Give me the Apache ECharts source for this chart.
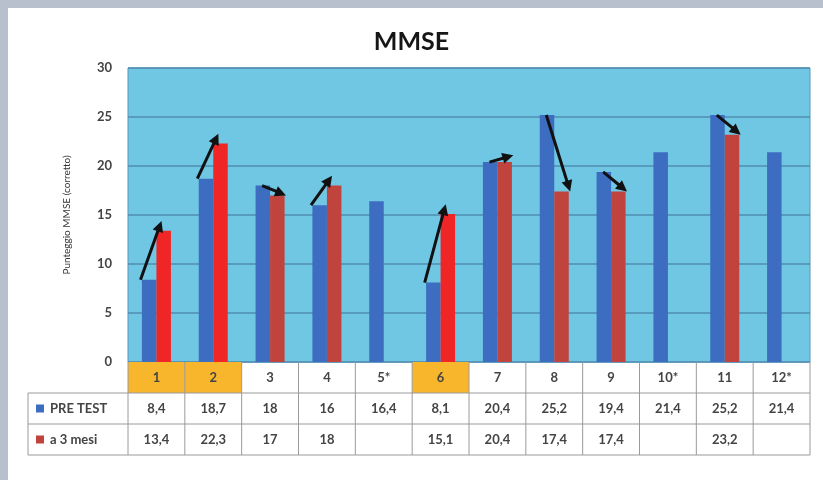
<!DOCTYPE html>
<html>
<head>
<meta charset="utf-8">
<title>MMSE</title>
<script src="https://cdn.jsdelivr.net/npm/echarts@6/dist/echarts.min.js"></script>
<style>
  html, body { margin: 0; padding: 0; background: #b9c0cd; }
  #chart { width: 823px; height: 480px; }
</style>
</head>
<body>
<div id="chart"></div>
<script>
// Pazienti (le etichette con * non hanno il controllo a 3 mesi)
const categorie = ['1', '2', '3', '4', '5*', '6', '7', '8', '9', '10*', '11', '12*'];
// Punteggio MMSE corretto prima del test
const preTest = [8.4, 18.7, 18, 16, 16.4, 8.1, 20.4, 25.2, 19.4, 21.4, 25.2, 21.4];
// Punteggio MMSE corretto dopo 3 mesi
const treMesi = [13.4, 22.3, 17, 18, null, 15.1, 20.4, 17.4, 17.4, null, 23.2, null];
// Pazienti evidenziati in tabella
const evidenziati = ['1', '2', '6'];
// Scala dell'asse dei punteggi
const yMin = 0, yMax = 30, yPasso = 5;

const nomiSerie = ['PRE TEST', 'a 3 mesi'];
const colBlu = '#3c6dc0';
const colRosso = '#f02626';
const colRossoScuro = '#c1433d';
const fontBase = 'Lato, "Open Sans", "DejaVu Sans", sans-serif';

const fmt = v => (v === null || v === undefined) ? '' : String(v).replace('.', ',');

const chart = echarts.init(document.getElementById('chart'));

const datiFrecce = categorie
  .map((c, i) => [i, preTest[i], treMesi[i]])
  .filter(d => d[2] !== null);

// Freccia dal punteggio iniziale a quello a 3 mesi
function disegnaFreccia(params, api) {
  const i = api.value(0), pre = api.value(1), post = api.value(2);
  const w = api.size([1, 0])[0];
  const c = api.coord([i, pre])[0];
  let p0, p1;
  if (post > pre) {
    p0 = [c - 0.28 * w, api.coord([i, pre])[1]];
    p1 = [c + 0.09 * w, api.coord([i, post + 1])[1]];
  } else if (post === pre) {
    p0 = [c - 0.14 * w, api.coord([i, pre])[1]];
    p1 = [c + 0.28 * w, api.coord([i, post + 0.7])[1]];
  } else {
    p0 = [c - 0.14 * w, api.coord([i, pre])[1]];
    p1 = [c + 0.28 * w, api.coord([i, post])[1]];
  }
  const dx = p1[0] - p0[0], dy = p1[1] - p0[1];
  const len = Math.sqrt(dx * dx + dy * dy);
  const ux = dx / len, uy = dy / len;
  const head = 11, half = 5.5;
  const base = [p1[0] - ux * head, p1[1] - uy * head];
  return {
    type: 'group',
    children: [
      {
        type: 'line',
        shape: { x1: p0[0], y1: p0[1], x2: base[0] + ux * 2, y2: base[1] + uy * 2 },
        style: { stroke: '#111', lineWidth: 3 }
      },
      {
        type: 'polygon',
        shape: {
          points: [
            p1,
            [base[0] - uy * half, base[1] + ux * half],
            [base[0] + uy * half, base[1] - ux * half]
          ]
        },
        style: { fill: '#111' }
      }
    ]
  };
}

chart.setOption({
  animation: false,
  backgroundColor: '#b9c0cd',
  title: {
    text: 'MMSE',
    left: 'center',
    top: 24,
    textStyle: { fontFamily: fontBase, fontSize: 25, fontWeight: 'bold', color: '#161616' }
  },
  grid: {
    left: 128, right: 13, top: 68, bottom: 118,
    show: true,
    backgroundColor: '#70c7e4',
    borderColor: '#5a96b6',
    borderWidth: 1
  },
  xAxis: {
    type: 'category',
    data: categorie,
    axisLine: { show: false },
    axisTick: { show: false },
    axisLabel: { show: false }
  },
  yAxis: {
    type: 'value',
    min: yMin, max: yMax, interval: yPasso,
    name: 'Punteggio MMSE (corretto)',
    nameLocation: 'middle',
    nameGap: 56,
    nameRotate: 90,
    nameTextStyle: { fontFamily: fontBase, fontSize: 10, color: '#333' },
    axisLine: { show: false },
    axisTick: { show: false },
    axisLabel: { margin: 16, fontFamily: fontBase, fontSize: 13, fontWeight: 'bold', color: '#444' },
    splitLine: { lineStyle: { color: '#4f8db0', width: 1.5 } }
  },
  series: [
    {
      name: nomiSerie[0],
      type: 'bar',
      data: preTest,
      barWidth: 14.5,
      barGap: '0%',
      itemStyle: { color: colBlu }
    },
    {
      name: nomiSerie[1],
      type: 'bar',
      data: treMesi.map((v, i) => ({
        value: v,
        itemStyle: { color: evidenziati.includes(categorie[i]) ? colRosso : colRossoScuro }
      })),
      barWidth: 14.5,
      itemStyle: { color: colRossoScuro }
    },
    {
      type: 'custom',
      renderItem: disegnaFreccia,
      data: datiFrecce,
      encode: { x: 0, y: [1, 2] },
      z: 5
    }
  ]
});

// Tabella dei valori sotto il grafico
function costruisciTabella() {
  const yBase = chart.convertToPixel({ yAxisIndex: 0 }, yMin);
  const x0 = chart.convertToPixel({ xAxisIndex: 0 }, 0);
  const x1 = chart.convertToPixel({ xAxisIndex: 0 }, 1);
  const w = x1 - x0;
  const hRiga = 31;
  const sinistra = x0 - w / 2;
  const destra = chart.convertToPixel({ xAxisIndex: 0 }, categorie.length - 1) + w / 2;
  const legX = 28;
  const bordo = { stroke: '#9a9a9a', lineWidth: 1 };
  const testo = { fontFamily: fontBase, fontSize: 13, fontWeight: 'bold', fill: '#444' };
  const el = [];

  // pannello bianco
  el.push({ type: 'rect', shape: { x: 8, y: 8, width: 823, height: 480 }, style: { fill: '#ffffff' }, z: -10 });

  categorie.forEach((c, i) => {
    const xc = chart.convertToPixel({ xAxisIndex: 0 }, i);
    if (evidenziati.includes(c)) {
      el.push({ type: 'rect', shape: { x: xc - w / 2, y: yBase, width: w, height: hRiga }, style: { fill: '#f7b62c' } });
    }
    el.push({ type: 'text', x: xc, y: yBase + hRiga / 2, style: Object.assign({ text: c, align: 'center', verticalAlign: 'middle' }, testo) });
    el.push({ type: 'text', x: xc, y: yBase + hRiga * 1.5, style: Object.assign({ text: fmt(preTest[i]), align: 'center', verticalAlign: 'middle' }, testo) });
    el.push({ type: 'text', x: xc, y: yBase + hRiga * 2.5, style: Object.assign({ text: fmt(treMesi[i]), align: 'center', verticalAlign: 'middle' }, testo) });
  });

  // linee orizzontali
  el.push({ type: 'line', shape: { x1: sinistra, y1: yBase + hRiga, x2: destra, y2: yBase + hRiga }, style: bordo });
  el.push({ type: 'line', shape: { x1: legX, y1: yBase + hRiga, x2: sinistra, y2: yBase + hRiga }, style: bordo });
  el.push({ type: 'line', shape: { x1: legX, y1: yBase + hRiga * 2, x2: destra, y2: yBase + hRiga * 2 }, style: bordo });
  el.push({ type: 'line', shape: { x1: legX, y1: yBase + hRiga * 3, x2: destra, y2: yBase + hRiga * 3 }, style: bordo });
  // linee verticali
  for (let k = 0; k <= categorie.length; k++) {
    const x = sinistra + k * w;
    el.push({ type: 'line', shape: { x1: x, y1: yBase, x2: x, y2: yBase + hRiga * 3 }, style: bordo });
  }
  el.push({ type: 'line', shape: { x1: legX, y1: yBase + hRiga, x2: legX, y2: yBase + hRiga * 3 }, style: bordo });

  // legenda nella tabella
  [colBlu, colRossoScuro].forEach((col, r) => {
    const yc = yBase + hRiga * (1.5 + r);
    el.push({ type: 'rect', shape: { x: legX + 8, y: yc - 4, width: 8, height: 8 }, style: { fill: col } });
    el.push({ type: 'text', x: legX + 22, y: yc, style: Object.assign({ text: nomiSerie[r], align: 'left', verticalAlign: 'middle' }, testo, { fontSize: 13 }) });
  });

  chart.setOption({ graphic: { elements: el } });
}
costruisciTabella();
</script>
</body>
</html>
